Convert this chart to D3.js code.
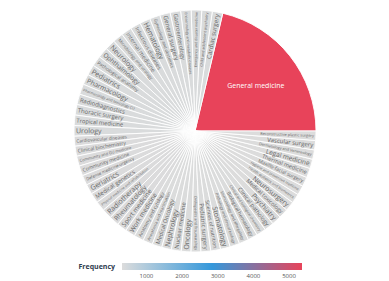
<!DOCTYPE html>
<html>
<head>
<meta charset="utf-8">
<script src="https://cdn.jsdelivr.net/npm/d3@7"></script>
<style>
  body { margin: 0; background: #fff; }
  svg { display: block; font-family: "Open Sans", "Liberation Sans", sans-serif; }
</style>
</head>
<body>
<svg id="chart" width="389" height="281"></svg>
<script>
// order: counterclockwise from 3 o'clock, largest first
const specialties = [
  "General medicine",
  "Cardiac surgery", "Child and adolescent psychiatry", "Emergency and disaster medicine",
  "Endocrinology and metabolic diseases", "Gastroenterology", "General surgery",
  "Gynecology and obstetrics", "Hematology", "Infectious diseases", "Internal medicine",
  "Microbiology and virology", "Neurology", "Ophthalmology", "Pathological anatomy",
  "Pediatrics", "Pharmacology", "Pharmacology and toxicology CU", "Radiodiagnostics",
  "Thoracic surgery", "Tropical medicine", "Urology",
  "Cardiovascular diseases", "Clinical biochemistry", "Community and GU medicine",
  "Community medicine", "Defense medicine-urgency", "Geriatrics", "Medical genetics",
  "Physical medicine and rehabilitation", "Radiotherapy", "Rheumatology",
  "Sport medicine", "Work medicine",
  "Anatomy and cytology", "Anesthesia and reanimation", "Medical Oncology", "Nephrology",
  "Nuclear medicine", "Oncology", "Orthopedics and Traumatology", "Pediatric surgery",
  "Sciences of nutrition", "Stomatology",
  "Pathology and clinical biology", "Immunology and allergology", "Biological hematology",
  "Clinical and biological chemistry", "Clinical pathology", "Psychiatry",
  "Medical toxicology", "Neurosurgery", "Health statistics and biometrics",
  "Hygiene and preventive medicine", "Maxillo-facial surgery", "Thermal medicine",
  "Legal medicine", "Dermatology and Venereology", "Vascular surgery",
  "Reconstructive plastic surgery"
];
const frequency = [
  5363,
  352, 352, 352, 352, 352, 352, 352, 352, 352, 352, 352,
  352, 352, 352, 352, 352, 352, 352, 352, 352, 352,
  335, 335, 335, 335, 335, 335, 335, 335, 335, 335, 335, 335,
  328, 328, 328, 328, 328, 328, 328, 328, 328, 328,
  326, 325, 324, 323, 322, 321, 320, 319,
  318, 318, 317, 316, 316, 315, 315, 314
];
const legendTicks = [1000, 2000, 3000, 4000, 5000];

const data = specialties.map((name, i) => ({ name, value: frequency[i] }));

const cx = 195, cy = 131, radius = 121;
const svg = d3.select("#chart");
const g = svg.append("g").attr("transform", `translate(${cx},${cy})`);

const minV = d3.min(frequency), maxV = d3.max(frequency);
const color = d3.scaleLinear()
  .domain([minV, (minV + maxV) / 2, maxV])
  .range(["#dcdcdc", "#3498db", "#e8435a"]);

const pie = d3.pie().sort(null).value(d => d.value)
  .startAngle(Math.PI / 2)
  .endAngle(Math.PI / 2 - 2 * Math.PI);
const arcs = pie(data);
const arc = d3.arc().innerRadius(0).outerRadius(radius);

g.selectAll("path.slice")
  .data(arcs)
  .enter().append("path")
  .attr("class", "slice")
  .attr("d", arc)
  .attr("fill", d => color(d.data.value))
  .attr("stroke", "#fff")
  .attr("stroke-width", 0.9);

// radial labels for small slices, anchored at the rim
const maxLen = 44;
const labels = g.selectAll("text.lab")
  .data(arcs.slice(1))
  .enter().append("text")
  .attr("class", "lab")
  .attr("fill", "#666")
  .attr("dy", "0.35em")
  .style("font-size", "7px")
  .text(d => d.data.name);

labels.each(function(d) {
  const len = this.getComputedTextLength();
  const fs = Math.max(3.5, Math.min(7, 7 * Math.pow(maxLen / len, 0.75)));
  let a = (d.startAngle + d.endAngle) / 2;
  a = ((a % (2 * Math.PI)) + 2 * Math.PI) % (2 * Math.PI);
  const r = radius - 2;
  const x = Math.sin(a) * r, y = -Math.cos(a) * r;
  const deg = a * 180 / Math.PI - 90;
  const right = a < Math.PI;
  d3.select(this)
    .style("font-size", fs + "px")
    .attr("text-anchor", right ? "end" : "start")
    .attr("transform", `translate(${x},${y}) rotate(${right ? deg : deg + 180})`);
});

// label for the big slice
const big = arcs[0];
const bigPos = d3.arc().innerRadius(radius * 0.62).outerRadius(radius * 0.62).centroid(big);
g.append("text")
  .attr("x", bigPos[0] + 2)
  .attr("y", bigPos[1] + 1)
  .attr("dy", "0.35em")
  .attr("text-anchor", "middle")
  .attr("fill", "#fff")
  .style("font-size", "7px")
  .text(big.data.name);

// colour legend
const lx = d3.scaleLinear().domain([minV, maxV]).range([122, 302]);
const defs = svg.append("defs");
const grad = defs.append("linearGradient").attr("id", "grad");
color.domain().forEach(v => {
  grad.append("stop")
    .attr("offset", (v - minV) / (maxV - minV))
    .attr("stop-color", color(v));
});
const legend = svg.append("g");
legend.append("rect")
  .attr("x", lx.range()[0]).attr("y", 263)
  .attr("width", lx.range()[1] - lx.range()[0]).attr("height", 7)
  .attr("fill", "url(#grad)");
legend.append("text")
  .attr("x", 115).attr("y", 269)
  .attr("text-anchor", "end")
  .attr("fill", "#2d3b4e")
  .style("font-size", "7px")
  .style("font-weight", "bold")
  .text("Frequency");
legend.selectAll("text.tick")
  .data(legendTicks)
  .enter().append("text")
  .attr("class", "tick")
  .attr("x", d => lx(d))
  .attr("y", 278)
  .attr("text-anchor", "middle")
  .attr("fill", "#555")
  .style("font-size", "6px")
  .text(d => d);
</script>
</body>
</html>
